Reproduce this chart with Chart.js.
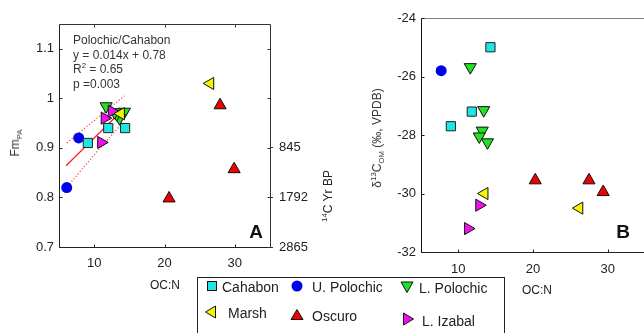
<!DOCTYPE html>
<html><head><meta charset="utf-8">
<script src="https://cdn.jsdelivr.net/npm/chart.js@4.4.1/dist/chart.umd.min.js"></script>
<style>
html,body{margin:0;padding:0;background:#fff;}
#wrap{position:relative;width:644px;height:333px;overflow:hidden;background:#fff;font-family:"Liberation Sans",Arial,sans-serif;color:#222;}
canvas{position:absolute;top:0;}
.t{position:absolute;white-space:nowrap;line-height:1;}
.rot{transform:translate(-50%,-50%) rotate(-90deg);}
.c{transform:translate(-50%,-50%);}
sub,sup{font-size:65%;line-height:0;}
#legend{position:absolute;left:197px;top:277px;width:306px;height:70px;border:1px solid #222;}
.lg{position:absolute;font-size:14px;white-space:nowrap;line-height:1;transform:translateY(-50%);color:#222;}
</style></head>
<body><div id="wrap">
<canvas id="cA" width="340" height="300" style="left:0;width:340px;height:300px"></canvas>
<canvas id="cB" width="340" height="300" style="left:330px;width:340px;height:300px"></canvas>

<div class="t rot" style="left:15px;top:143px;font-size:12px;color:#3a3330">Fm<sub>PA</sub></div>
<div class="t rot" style="left:328px;top:196px;font-size:12px;color:#222"><sup>14</sup>C Yr BP</div>
<div class="t rot" style="left:377px;top:138px;font-size:12px;color:#3a3330">δ<sup>13</sup>C<sub>OM</sub> (‰, VPDB)</div>
<div class="t c" style="left:165px;top:285px;font-size:12px;color:#222">OC:N</div>
<div class="t c" style="left:537px;top:290px;font-size:12px;color:#222">OC:N</div>
<div class="t" style="left:73px;top:33px;font-size:12px;color:#3a3330;line-height:14.7px">Polochic/Cahabon<br>y = 0.014x + 0.78<br>R<sup>2</sup> = 0.65<br>p =0.003</div>
<div class="t c" style="left:256px;top:231px;font-size:19px;font-weight:bold;color:#111">A</div>
<div class="t c" style="left:623px;top:231px;font-size:19px;font-weight:bold;color:#111">B</div>

<div id="legend"></div>
<svg style="position:absolute;left:0;top:0" width="644" height="333">
  <rect x="207.5" y="281.5" width="9" height="9" fill="#1ee6e6" stroke="#111" stroke-width="1"/>
  <circle cx="297" cy="286" r="5.5" fill="#0000ee"/>
  <polygon points="401,282 413,282 407,292.5" fill="#22e022" stroke="#111" stroke-width="1"/>
  <polygon points="205.5,312 215.5,306 215.5,318" fill="#f5f500" stroke="#111" stroke-width="1"/>
  <polygon points="297,309.5 303,319.5 291,319.5" fill="#ee0000" stroke="#111" stroke-width="1"/>
  <polygon points="413.5,319 403.5,313 403.5,325" fill="#ee11ee" stroke="#111" stroke-width="1"/>
</svg>
<div class="lg" style="left:222px;top:287px">Cahabon</div>
<div class="lg" style="left:312px;top:287px">U. Polochic</div>
<div class="lg" style="left:419px;top:288px">L. Polochic</div>
<div class="lg" style="left:228px;top:313px">Marsh</div>
<div class="lg" style="left:312px;top:316px">Oscuro</div>
<div class="lg" style="left:422px;top:321px">L. Izabal</div>
</div>
<script>
// ---------- Data ----------
// Panel A: OC:N vs Fm_PA
const cahabonA_x   = [9.1, 12.0, 14.4];
const cahabonA_y   = [0.91, 0.94, 0.94];
const uPolochicA_x = [7.8, 6.1];
const uPolochicA_y = [0.92, 0.82];
const lPolochicA_x = [11.7, 14.3, 13.6, 13.2, 12.9];
const lPolochicA_y = [0.984, 0.973, 0.96, 0.968, 0.972];
const marshA_x     = [26.5, 13.8];
const marshA_y     = [1.03, 0.969];
const oscuroA_x    = [27.9, 29.9, 20.65];
const oscuroA_y    = [0.986, 0.857, 0.798];
const izabalA_x    = [11.0, 11.5, 12.5];
const izabalA_y    = [0.911, 0.96, 0.974];
// regression line and confidence band (Polochic/Cahabon)
const fitX   = [6.0, 14.0];
const fitY   = [0.864, 0.976];
const upperX = [6.1, 14.3];
const upperY = [0.91, 1.005];
const lowerX = [6.2, 10.0, 14.0];
const lowerY = [0.822, 0.886, 0.95];

// Panel B: OC:N vs d13C_OM
const cahabonB_x   = [14.3, 11.8, 9.0];
const cahabonB_y   = [-25.0, -27.2, -27.7];
const uPolochicB_x = [7.7];
const uPolochicB_y = [-25.8];
const lPolochicB_x = [11.6, 13.4, 13.2, 12.8, 13.9];
const lPolochicB_y = [-25.68, -27.15, -27.85, -28.05, -28.25];
const marshB_x     = [13.5, 26.2];
const marshB_y     = [-30.0, -30.5];
const oscuroB_x    = [20.3, 27.5, 29.4];
const oscuroB_y    = [-29.55, -29.55, -29.95];
const izabalB_x    = [12.8, 11.3];
const izabalB_y    = [-30.4, -31.2];

// Ticks
const xTicksA = [10, 20, 30];
const yTicksA = [0.7, 0.8, 0.9, 1, 1.1];
const yTickLabelsA = ['0.7', '0.8', '0.9', '1', '1.1'];
const c14Ticks = [0.7, 0.8, 0.9];
const c14Labels = ['2865', '1792', '845'];
const xTicksB = [10, 20, 30];
const yTicksB = [-32, -30, -28, -26, -24];
const yTickLabelsB = ['-32', '-30', '-28', '-26', '-24'];

// ---------- helpers ----------
const pts = (xs, ys) => xs.map((x, i) => ({x, y: ys[i]}));
const COL = {cyan:'#1ee6e6', blue:'#0000ee', green:'#22e022', yellow:'#f5f500', red:'#ee0000', magenta:'#ee11ee'};
const FONT = {family:'"Liberation Sans", Arial, sans-serif', size:13};

function markerSets(d) {
  return [
    {type:'scatter', label:'Marsh', data:pts(d.mx, d.my), pointStyle:'triangle', rotation:-90, pointRadius:7, backgroundColor:COL.yellow, borderColor:'#111', borderWidth:1, order:1},
    {type:'scatter', label:'L. Izabal', data:pts(d.ix, d.iy), pointStyle:'triangle', rotation:90, pointRadius:7, backgroundColor:COL.magenta, borderColor:'#111', borderWidth:1, order:2},
    {type:'scatter', label:'L. Polochic', data:pts(d.lx, d.ly), pointStyle:'triangle', rotation:180, pointRadius:7, backgroundColor:COL.green, borderColor:'#111', borderWidth:1, order:3},
    {type:'scatter', label:'Cahabon', data:pts(d.cx, d.cy), pointStyle:'rect', pointRadius:6.5, backgroundColor:COL.cyan, borderColor:'#222', borderWidth:1, order:4},
    {type:'scatter', label:'U. Polochic', data:pts(d.ux, d.uy), pointStyle:'circle', pointRadius:5.5, backgroundColor:COL.blue, borderColor:COL.blue, borderWidth:0, order:5},
    {type:'scatter', label:'Oscuro', data:pts(d.ox, d.oy), pointStyle:'triangle', rotation:0, pointRadius:7, backgroundColor:COL.red, borderColor:'#111', borderWidth:1, order:6},
  ];
}

const framePlugin = {
  id: 'frame',
  afterDraw(chart, args, o) {
    const {ctx, chartArea: a} = chart;
    const L = Math.round(a.left) + 0.5, R = Math.round(a.right) + 0.5, T = Math.round(a.top) + 0.5, B = Math.round(a.bottom) + 0.5;
    ctx.save();
    ctx.lineWidth = 1;
    ctx.setLineDash([]);
    const line = (x1, y1, x2, y2, c) => { ctx.strokeStyle = c; ctx.beginPath(); ctx.moveTo(x1, y1); ctx.lineTo(x2, y2); ctx.stroke(); };
    if (o.top) line(L, T, R, T, o.top);
    if (o.right) line(R, T, R, B, o.right);
    line(L, B, R, B, o.bottom);
    line(L, T, L, B, o.left);
    const xs = chart.scales.x, ys = chart.scales.y;
    for (const t of xs.ticks) {
      const p = Math.round(xs.getPixelForValue(t.value)) + 0.5;
      line(p, B, p, B - 3, o.bottom);
      if (o.mirror) line(p, T, p, T + 3, o.top);
    }
    for (const t of ys.ticks) {
      const p = Math.round(ys.getPixelForValue(t.value)) + 0.5;
      line(L, p, L + 3, p, o.left);
      if (o.mirror) line(R, p, R - 3, p, o.right);
    }
    ctx.restore();
  }
};

function fixed(w, h) {
  return (s) => { if (w != null) s.width = w; if (h != null) s.height = h; };
}
function setTicks(arr) {
  return (s) => { s.ticks = arr.map(v => ({value: v})); };
}
function labelFrom(vals, labels) {
  return (v) => { const i = vals.findIndex(t => Math.abs(t - v) < 1e-9); return i < 0 ? '' : labels[i]; };
}

// ---------- Chart A ----------
const dsA = markerSets({cx:cahabonA_x, cy:cahabonA_y, ux:uPolochicA_x, uy:uPolochicA_y, lx:lPolochicA_x, ly:lPolochicA_y,
  mx:marshA_x, my:marshA_y, ox:oscuroA_x, oy:oscuroA_y, ix:izabalA_x, iy:izabalA_y});
const redLine = {type:'line', pointRadius:0, fill:false, tension:0, borderWidth:1.2};
dsA.push(
  Object.assign({label:'fit', data:pts(fitX, fitY), borderColor:'#ff1a1a', backgroundColor:'#ff1a1a', order:10}, redLine),
  Object.assign({label:'upper', data:pts(upperX, upperY), borderColor:'#ff3c3c', backgroundColor:'#ff3c3c', borderDash:[1.2,2], order:11}, redLine),
  Object.assign({label:'lower', data:pts(lowerX, lowerY), borderColor:'#ff3c3c', backgroundColor:'#ff3c3c', borderDash:[1.2,2], order:12}, redLine)
);

new Chart(document.getElementById('cA'), {
  type: 'scatter',
  data: {datasets: dsA},
  options: {
    responsive: false, animation: false, events: [],
    layout: {padding: {top: 24, left: 0, right: 0, bottom: 0}},
    plugins: {legend: {display: false}, tooltip: {enabled: false},
      frame: {top:'#333', right:'#333', bottom:'#222', left:'#222', mirror:true}},
    scales: {
      x: {type:'linear', position:'bottom', min:5, max:35, afterBuildTicks:setTicks(xTicksA), afterFit:fixed(null, 53),
          grid:{display:false}, border:{display:false},
          ticks:{autoSkip:false, maxRotation:0, padding:1, color:'#222', font:FONT, callback:labelFrom(xTicksA, xTicksA.map(String))}},
      y: {type:'linear', position:'left', min:0.7, max:1.15, afterBuildTicks:setTicks(yTicksA), afterFit:fixed(59, null),
          grid:{display:false}, border:{display:false},
          ticks:{autoSkip:false, padding:-3, color:'#222', font:FONT, callback:labelFrom(yTicksA, yTickLabelsA)}},
      y2: {type:'linear', position:'right', min:0.7, max:1.15, afterBuildTicks:setTicks(c14Ticks), afterFit:fixed(70, null),
          grid:{drawOnChartArea:false, drawTicks:true, tickLength:3, color:'#333'}, border:{display:false},
          ticks:{autoSkip:false, padding:6, color:'#222', font:FONT, callback:labelFrom(c14Ticks, c14Labels)}}
    }
  },
  plugins: [framePlugin]
});

// ---------- Chart B ----------
const dsB = markerSets({cx:cahabonB_x, cy:cahabonB_y, ux:uPolochicB_x, uy:uPolochicB_y, lx:lPolochicB_x, ly:lPolochicB_y,
  mx:marshB_x, my:marshB_y, ox:oscuroB_x, oy:oscuroB_y, ix:izabalB_x, iy:izabalB_y});

new Chart(document.getElementById('cB'), {
  type: 'scatter',
  data: {datasets: dsB},
  options: {
    responsive: false, animation: false, events: [],
    layout: {padding: {top: 18, left: 0, right: 25, bottom: 0}},
    plugins: {legend: {display: false}, tooltip: {enabled: false},
      frame: {top:'#808080', right:null, bottom:'#222', left:'#111', mirror:false}},
    scales: {
      x: {type:'linear', position:'bottom', min:5, max:35, afterBuildTicks:setTicks(xTicksB), afterFit:fixed(null, 48),
          grid:{display:false}, border:{display:false},
          ticks:{autoSkip:false, maxRotation:0, padding:2, color:'#222', font:FONT, callback:labelFrom(xTicksB, xTicksB.map(String))}},
      y: {type:'linear', position:'left', min:-32, max:-24, afterBuildTicks:setTicks(yTicksB), afterFit:fixed(91, null),
          grid:{display:false}, border:{display:false},
          ticks:{autoSkip:false, padding:-3, color:'#222', font:FONT, callback:labelFrom(yTicksB, yTickLabelsB)}}
    }
  },
  plugins: [framePlugin]
});
</script>
</body></html>
